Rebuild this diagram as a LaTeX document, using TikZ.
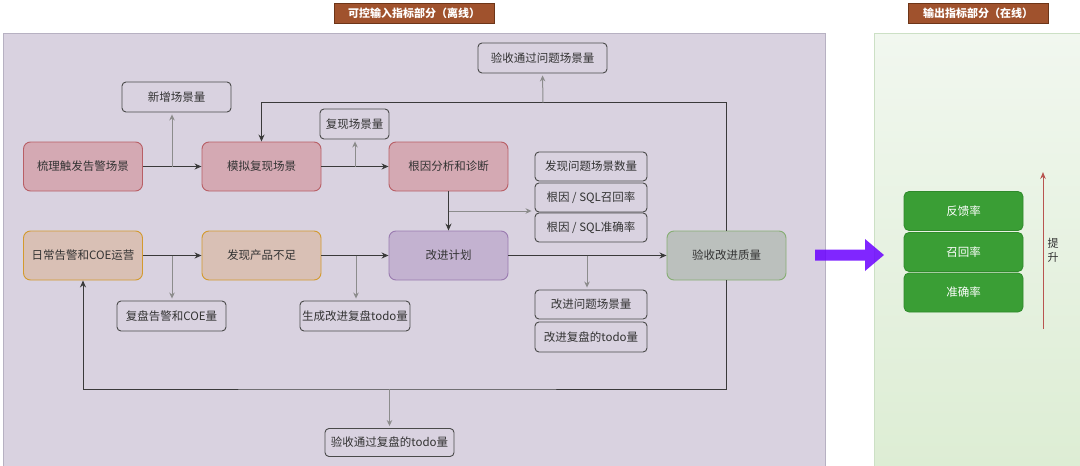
\documentclass[tikz,border=0pt]{standalone}
\usepackage{fontspec}
\setmainfont{Noto Sans CJK SC}
\usetikzlibrary{arrows.meta,calc}
\definecolor{panelL}{HTML}{D9D2E0}
\definecolor{panelLd}{HTML}{B7B1C2}
\definecolor{panelRt}{HTML}{F1F7EF}
\definecolor{panelRb}{HTML}{DDEDD4}
\definecolor{panelRd}{HTML}{CCE0C5}
\definecolor{titlef}{HTML}{A0522D}
\definecolor{titled}{HTML}{6D3518}
\definecolor{pinkf}{HTML}{D4A9B3}
\definecolor{pinkd}{HTML}{B85F66}
\definecolor{peachf}{HTML}{D9C0B5}
\definecolor{peachd}{HTML}{D39A2E}
\definecolor{purpf}{HTML}{C3B2D0}
\definecolor{purpd}{HTML}{9A7BB0}
\definecolor{grnf}{HTML}{BBC0BD}
\definecolor{grnd}{HTML}{86AE73}
\definecolor{okf}{HTML}{3A9E35}
\definecolor{okd}{HTML}{2F8A2B}
\definecolor{txt}{HTML}{333333}
\definecolor{mline}{HTML}{3A3A3A}
\definecolor{gline}{HTML}{8C8C8C}
\definecolor{boxd}{HTML}{4A4A4A}
\definecolor{bigarrow}{HTML}{6A00FF}
\definecolor{redarrow}{HTML}{B85450}
\begin{document}
\begin{tikzpicture}[x=1pt,y=-1pt,
  font=\fontsize{11.5}{13}\selectfont,
  every node/.style={text=txt, inner sep=1pt},
  metric/.style={rectangle, rounded corners=4pt, draw=boxd, line width=0.9pt, fill=panelL},
  flow/.style={rectangle, rounded corners=7pt, line width=0.9pt, minimum width=119pt, minimum height=49pt},
  pinkbox/.style={flow, fill=pinkf, draw=pinkd},
  peachbox/.style={flow, fill=peachf, draw=peachd},
  purpbox/.style={flow, fill=purpf, draw=purpd},
  grnbox/.style={flow, fill=grnf, draw=grnd},
  okbox/.style={rectangle, rounded corners=5pt, fill=okf, draw=okd, line width=0.8pt, minimum width=119pt, minimum height=39pt, text=white},
  titlebox/.style={rectangle, fill=titlef, draw=titled, line width=0.8pt, minimum height=20pt, text=white, font=\fontsize{11}{12}\selectfont\bfseries},
  mainarrow/.style={draw=mline, line width=1pt, -{Stealth[length=7pt,width=6pt]}},
  mainline/.style={draw=mline, line width=1pt},
  grayarrow/.style={draw=gline, line width=1pt, -{Stealth[length=6pt,width=5.5pt]}, shorten >=2pt}
]
\useasboundingbox (0,0) rectangle (1080,466);
% panels
\fill[white] (0,0) rectangle (1080,466);
\filldraw[fill=panelL, draw=panelLd, line width=1pt] (3.5,33.5) rectangle (825.5,467);
\shade[top color=panelRt, bottom color=panelRb] (874,33.5) rectangle (1081,467);
\draw[panelRd, line width=1pt] (874,467) -- (874,33.5) -- (1081,33.5);
% titles
\node[titlebox, minimum width=160pt] (t1) at (414,13.5) {可控输入指标部分（离线）};
\node[titlebox, minimum width=140pt] (t2) at (978,13.5) {输出指标部分（在线）};

% flow nodes
\node[pinkbox] (a1) at (83,166.5) {梳理触发告警场景};
\node[pinkbox] (a2) at (261.5,166.5) {模拟复现场景};
\node[pinkbox] (a3) at (448.5,166.5) {根因分析和诊断};
\node[peachbox] (b1) at (83,255.5) {日常告警和COE运营};
\node[peachbox] (b2) at (261.5,255.5) {发现产品不足};
\node[purpbox] (b3) at (448.5,255.5) {改进计划};
\node[grnbox] (q) at (726.5,255.5) {验收改进质量};

% metric nodes
\node[metric, minimum width=109pt, minimum height=30pt] (m1) at (176.5,97) {新增场景量};
\node[metric, minimum width=69pt, minimum height=30pt] (m2) at (354.5,124) {复现场景量};
\node[metric, minimum width=129pt, minimum height=30pt] (m3) at (542.5,58) {验收通过问题场景量};
\node[metric, minimum width=112pt, minimum height=29pt] (s1) at (591,166.5) {发现问题场景数量};
\node[metric, minimum width=112pt, minimum height=29pt] (s2) at (591,197.5) {根因 / SQL召回率};
\node[metric, minimum width=112pt, minimum height=29pt] (s3) at (591,227.5) {根因 / SQL准确率};
\node[metric, minimum width=109pt, minimum height=30pt] (m4) at (171.5,316) {复盘告警和COE量};
\node[metric, minimum width=110pt, minimum height=30pt] (m5) at (355,316) {生成改进复盘todo量};
\node[metric, minimum width=112pt, minimum height=29pt] (m6) at (591,304.5) {改进问题场景量};
\node[metric, minimum width=112pt, minimum height=30pt] (m7) at (591,337) {改进复盘的todo量};
\node[metric, minimum width=129pt, minimum height=28pt] (m8) at (389.5,442.5) {验收通过复盘的todo量};

% output nodes
\node[okbox] (o1) at (963.5,211) {反馈率};
\node[okbox] (o2) at (963.5,252) {召回率};
\node[okbox] (o3) at (963.5,292.5) {准确率};

% main connectors
\draw[mainarrow] (a1) -- (a2);
\draw[mainarrow] (a2) -- (a3);
\draw[mainarrow] (a3) -- (b3);
\draw[mainarrow] (b1) -- (b2);
\draw[mainarrow] (b2) -- (b3);
\draw[mainarrow] (b3) -- (q);
\coordinate (ftop) at (543,102.5);
\coordinate (fbot) at (389.5,389);
\draw[mainarrow] (q.north) |- (ftop) -| (a2.north);
\draw[mainarrow] (q.south) |- (fbot) -| (b1.south);

% gray metric arrows
\coordinate (g1) at (172,166.5);
\coordinate (g2) at (355,166.5);
\coordinate (g3) at (448.5,211);
\coordinate (g4) at (172,255.5);
\coordinate (g5) at (356,255.5);
\coordinate (g6) at (587,255.5);
\draw[grayarrow] (g1) -- (g1 |- m1.south);
\draw[grayarrow] (g2) -- (g2 |- m2.south);
\draw[grayarrow] (ftop) -- (m3.south);
\draw[grayarrow, shorten >=3pt] (g3) -- (g3 -| s3.west);
\draw[grayarrow] (g4) -- (g4 |- m4.north);
\draw[grayarrow] (g5) -- (g5 |- m5.north);
\draw[grayarrow] (g6) -- (g6 |- m6.north);
\draw[grayarrow] (fbot) -- (m8.north);

% big transfer arrow
\fill[bigarrow, opacity=0.85] (815,249.5) -- (865,249.5) -- (865,239) -- (884,255) -- (865,271) -- (865,260.5) -- (815,260.5) -- cycle;

% lift arrow
\coordinate (r0) at (1043,329);
\coordinate (r1) at (1043,172);
\draw[draw=redarrow, line width=1pt, -{Stealth[length=7pt,width=5.5pt]}] (r0) -- (r1);
\node[font=\fontsize{11}{14}\selectfont, align=center] (lift) at (1053,250.5) {提\\升};
\end{tikzpicture}
\end{document}
